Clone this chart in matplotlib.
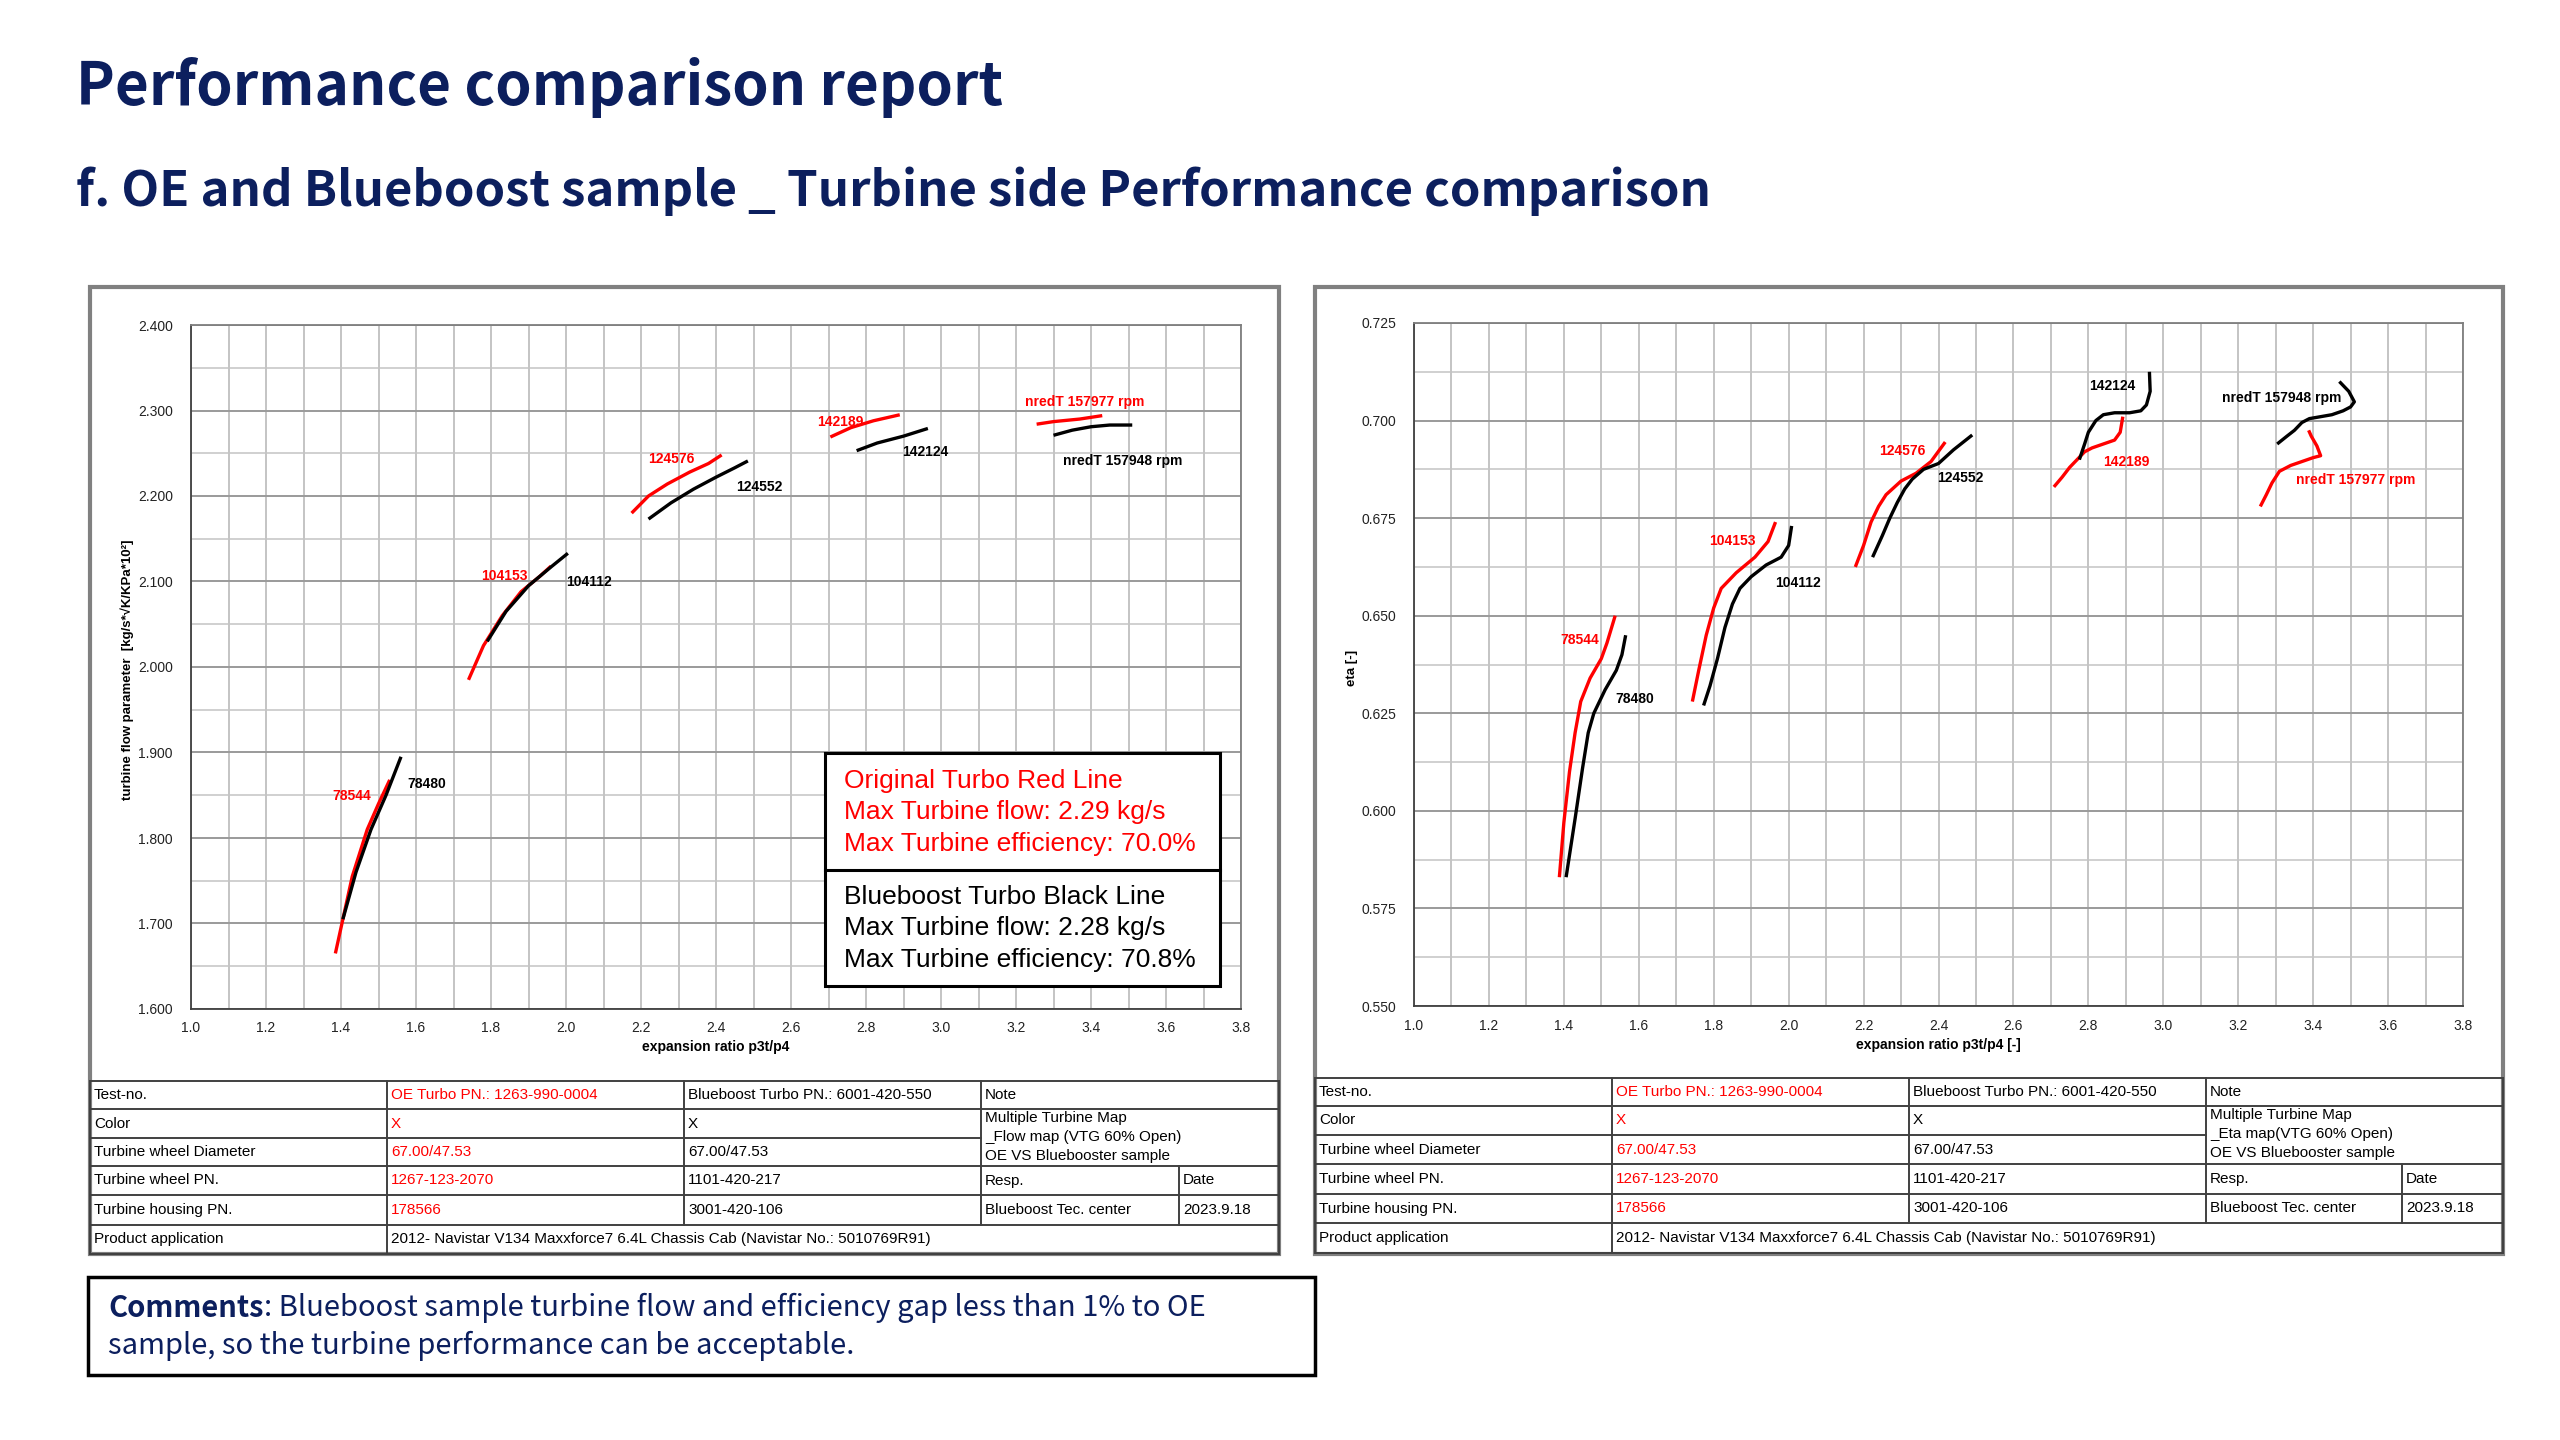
import matplotlib
matplotlib.use("Agg")
import matplotlib.pyplot as plt
import matplotlib.transforms as mtransforms
from matplotlib.patches import Rectangle
from matplotlib.lines import Line2D
from matplotlib.ticker import MultipleLocator, FormatStrFormatter


# ============================================================
# DATA
# ============================================================

oe_speeds = ["78544", "104153", "124576", "142189", "nredT 157977 rpm"]
bb_speeds = ["78480", "104112", "124552", "142124", "nredT 157948 rpm"]

# flow map: turbine flow parameter vs expansion ratio
flow_oe_x = [
    [1.385, 1.43, 1.47, 1.50, 1.53],
    [1.74, 1.78, 1.83, 1.88, 1.93, 1.96],
    [2.175, 2.22, 2.27, 2.33, 2.38, 2.415],
    [2.705, 2.76, 2.82, 2.89],
    [3.255, 3.30, 3.37, 3.43],
]
flow_oe_y = [
    [1.665, 1.755, 1.810, 1.840, 1.868],
    [1.985, 2.025, 2.060, 2.088, 2.106, 2.118],
    [2.180, 2.200, 2.214, 2.228, 2.238, 2.248],
    [2.269, 2.280, 2.288, 2.295],
    [2.284, 2.287, 2.290, 2.294],
]
flow_bb_x = [
    [1.405, 1.44, 1.48, 1.52, 1.56],
    [1.79, 1.84, 1.90, 1.96, 2.005],
    [2.22, 2.28, 2.34, 2.40, 2.45, 2.485],
    [2.775, 2.83, 2.90, 2.965],
    [3.30, 3.35, 3.40, 3.45, 3.51],
]
flow_bb_y = [
    [1.705, 1.760, 1.810, 1.850, 1.895],
    [2.030, 2.065, 2.095, 2.117, 2.133],
    [2.173, 2.192, 2.208, 2.222, 2.233, 2.241],
    [2.253, 2.262, 2.270, 2.279],
    [2.271, 2.277, 2.281, 2.283, 2.283],
]
flow_oe_label_x = [1.429, 1.837, 2.280, 2.731, 3.384]
flow_oe_label_y = [1.849, 2.107, 2.243, 2.286, 2.310]
flow_bb_label_x = [1.629, 2.061, 2.516, 2.957, 3.484]
flow_bb_label_y = [1.863, 2.099, 2.210, 2.251, 2.241]

# eta map: efficiency vs expansion ratio
eta_oe_x = [
    [1.388, 1.40, 1.415, 1.43, 1.445, 1.47, 1.50, 1.515, 1.537],
    [1.743, 1.76, 1.78, 1.80, 1.82, 1.86, 1.91, 1.945, 1.965],
    [2.178, 2.20, 2.22, 2.24, 2.26, 2.30, 2.34, 2.38, 2.418],
    [2.708, 2.73, 2.75, 2.77, 2.79, 2.81, 2.84, 2.87, 2.885, 2.892],
    [3.259, 3.275, 3.29, 3.31, 3.34, 3.37, 3.40, 3.42, 3.41, 3.395, 3.388],
]
eta_oe_y = [
    [0.583, 0.597, 0.610, 0.620, 0.628, 0.634, 0.639, 0.643, 0.650],
    [0.628, 0.636, 0.645, 0.652, 0.657, 0.661, 0.665, 0.669, 0.674],
    [0.6625, 0.668, 0.674, 0.678, 0.681, 0.6845, 0.6865, 0.6895, 0.6945],
    [0.683, 0.6855, 0.688, 0.690, 0.692, 0.693, 0.694, 0.695, 0.697, 0.701],
    [0.678, 0.681, 0.684, 0.687, 0.6885, 0.6895, 0.6905, 0.691, 0.6935, 0.696, 0.6975],
]
eta_bb_x = [
    [1.406, 1.43, 1.45, 1.465, 1.48, 1.51, 1.54, 1.555, 1.565],
    [1.773, 1.79, 1.81, 1.83, 1.85, 1.87, 1.90, 1.94, 1.98, 2.00, 2.008],
    [2.224, 2.25, 2.27, 2.29, 2.31, 2.33, 2.36, 2.40, 2.44, 2.49],
    [2.776, 2.79, 2.80, 2.82, 2.84, 2.87, 2.91, 2.94, 2.955, 2.965, 2.963],
    [3.304, 3.33, 3.35, 3.37, 3.39, 3.42, 3.45, 3.48, 3.50, 3.51, 3.495, 3.47],
]
eta_bb_y = [
    [0.583, 0.598, 0.611, 0.620, 0.625, 0.631, 0.636, 0.640, 0.645],
    [0.627, 0.632, 0.639, 0.647, 0.653, 0.657, 0.660, 0.663, 0.665, 0.668, 0.673],
    [0.665, 0.6705, 0.675, 0.679, 0.6825, 0.685, 0.6875, 0.689, 0.6925, 0.6963],
    [0.690, 0.694, 0.697, 0.700, 0.7015, 0.702, 0.702, 0.7025, 0.704, 0.7075, 0.7125],
    [0.694, 0.696, 0.6975, 0.6995, 0.7005, 0.701, 0.7015, 0.7025, 0.7035, 0.7048, 0.7075, 0.710],
]
eta_oe_label_x = [1.443, 1.851, 2.304, 2.902, 3.514]
eta_oe_label_y = [0.6439, 0.6692, 0.6923, 0.6895, 0.6848]
eta_bb_label_x = [1.590, 2.024, 2.459, 2.865, 3.316]
eta_bb_label_y = [0.6287, 0.6584, 0.6852, 0.7089, 0.7057]

legend_oe = ["Original Turbo Red Line", "Max Turbine flow: 2.29 kg/s",
             "Max Turbine efficiency: 70.0%"]
legend_bb = ["Blueboost Turbo Black Line", "Max Turbine flow: 2.28 kg/s",
             "Max Turbine efficiency: 70.8%"]

# info table below each map
row_names = ["Test-no.", "Color", "Turbine wheel Diameter", "Turbine wheel PN.",
             "Turbine housing PN.", "Product application"]
oe_column = ["OE Turbo PN.: 1263-990-0004", "X", "67.00/47.53", "1267-123-2070", "178566"]
bb_column = ["Blueboost Turbo PN.: 6001-420-550", "X", "67.00/47.53", "1101-420-217",
             "3001-420-106"]
note_flow = ["Multiple Turbine Map", "_Flow map (VTG 60% Open)", "OE VS Bluebooster sample"]
note_eta = ["Multiple Turbine Map", "_Eta map(VTG 60% Open)", "OE VS Bluebooster sample"]
resp_text = ["Resp.", "Date", "Blueboost Tec. center", "2023.9.18"]
product_text = "2012- Navistar V134 Maxxforce7 6.4L Chassis Cab (Navistar No.: 5010769R91)"

title_text = "Performance comparison report"
subtitle_text = "f. OE and Blueboost sample _ Turbine side Performance comparison"
comment_bold = "Comments"
comment_lines = [": Blueboost sample turbine flow and efficiency gap less than 1% to OE",
                 "sample, so the turbine performance can be acceptable."]


# ============================================================
# STYLE
# ============================================================

W, H = 2560, 1440
NAVY = "#0C1F5E"
RED = "#FF0000"
NARROW = ["Liberation Sans Narrow", "Liberation Sans", "DejaVu Sans"]
HEAD = ["Noto Sans CJK SC", "DejaVu Sans"]

plt.rcParams["font.family"] = NARROW

fig = plt.figure(figsize=(W / 100, H / 100), dpi=100)
fig.patch.set_facecolor("white")

# pixel coordinates, origin at top-left
px = mtransforms.Affine2D().scale(1 / W, -1 / H).translate(0, 1) + fig.transFigure


def px_rect(x0, y0, x1, y1):
    return [x0 / W, 1 - y1 / H, (x1 - x0) / W, (y1 - y0) / H]


def hline(x0, x1, y, color="#404040", lw=1.4):
    fig.add_artist(Line2D([x0, x1], [y, y], color=color, lw=lw, transform=px))


def vline(x, y0, y1, color="#404040", lw=1.4):
    fig.add_artist(Line2D([x, x], [y0, y1], color=color, lw=lw, transform=px))


def put(x, y, s, **kw):
    kw.setdefault("fontsize", 11)
    kw.setdefault("va", "center")
    kw.setdefault("ha", "left")
    return fig.text(x, y, s, transform=px, **kw)


def make_map(rect, ylim, ymajor, yminor, yfmt):
    ax = fig.add_axes(px_rect(*rect))
    ax.set_xlim(1.0, 3.8)
    ax.set_ylim(*ylim)
    ax.xaxis.set_major_locator(MultipleLocator(0.2))
    ax.xaxis.set_minor_locator(MultipleLocator(0.1))
    ax.yaxis.set_major_locator(MultipleLocator(ymajor))
    ax.yaxis.set_minor_locator(MultipleLocator(yminor))
    ax.xaxis.set_major_formatter(FormatStrFormatter("%.1f"))
    ax.yaxis.set_major_formatter(FormatStrFormatter(yfmt))
    ax.grid(axis="x", which="both", color="#B4B4B4", lw=1.1)
    ax.grid(axis="y", which="major", color="#9A9A9A", lw=1.4)
    ax.grid(axis="y", which="minor", color="#C4C4C4", lw=1.1)
    ax.set_axisbelow(True)
    ax.tick_params(which="both", length=0, labelsize=10, colors="#222222")
    ax.tick_params(axis="y", pad=13)
    ax.tick_params(axis="x", pad=9)
    for side, sp in ax.spines.items():
        sp.set_color("#7F7F7F" if side in ("top", "right") else "#404040")
        sp.set_linewidth(1.3)
    return ax


def draw_curves(ax, xs, ys, color):
    for x, y in zip(xs, ys):
        ax.plot(x, y, color=color, lw=2.4, solid_capstyle="butt")


def draw_labels(ax, xs, ys, names, color):
    for x, y, s in zip(xs, ys, names):
        ax.text(x, y, s, color=color, fontsize=10, fontweight="bold",
                ha="center", va="center")


def draw_table(cols, rows, note_lines):
    c0, c1, c2, c3, c4, c5 = cols
    r0, r1, r2, r3, r4, r5, r6 = rows
    for r in (r0, r1, r3, r4, r5, r6):
        hline(c0, c5, r)
    hline(c0, c3, r2)
    vline(c0, r0, r6)
    vline(c1, r0, r6)
    vline(c2, r0, r5)
    vline(c3, r0, r5)
    vline(c4, r3, r5)
    vline(c5, r0, r6)
    mids = [(rows[i] + rows[i + 1]) / 2 for i in range(6)]
    for m, s in zip(mids, row_names):
        put(c0 + 4, m, s)
    for m, s in zip(mids, oe_column):
        put(c1 + 4, m, s, color=RED)
    for m, s in zip(mids, bb_column):
        put(c2 + 4, m, s)
    put(c3 + 4, mids[0], "Note")
    step = (r3 - r1) / 3
    for i, s in enumerate(note_lines):
        put(c3 + 4, r1 + step * (i + 0.45), s)
    put(c3 + 4, mids[3], resp_text[0])
    put(c4 + 4, mids[3], resp_text[1])
    put(c3 + 4, mids[4], resp_text[2])
    put(c4 + 4, mids[4], resp_text[3])
    put(c1 + 4, mids[5], product_text)


# ============================================================
# HEADINGS
# ============================================================

put(76, 87, title_text, fontsize=42, color=NAVY, family=HEAD, fontweight="bold")
put(76, 191, subtitle_text, fontsize=35.3, color=NAVY, family=HEAD, fontweight="bold")

# ============================================================
# LEFT: FLOW MAP
# ============================================================

ax_flow = make_map((191, 325, 1241, 1009), (1.6, 2.4), 0.1, 0.05, "%.3f")
draw_curves(ax_flow, flow_oe_x, flow_oe_y, RED)
draw_curves(ax_flow, flow_bb_x, flow_bb_y, "black")
draw_labels(ax_flow, flow_oe_label_x, flow_oe_label_y, oe_speeds, RED)
draw_labels(ax_flow, flow_bb_label_x, flow_bb_label_y, bb_speeds, "black")
put(127, 670, "turbine flow parameter  [kg/s*\u221aK/KPa*10\u00b2]", fontsize=9.5,
    fontweight="bold", rotation=90, ha="center")
put(716, 1047, "expansion ratio p3t/p4", fontsize=10, fontweight="bold", ha="center")

# legend box
fig.add_artist(Rectangle((825, 753), 395, 233, transform=px, facecolor="white",
                         edgecolor="black", lw=2.2))
hline(825, 1220, 870, color="black", lw=2.2)
for i, s in enumerate(legend_oe):
    put(844, 781 + 31.5 * i, s, fontsize=19, color=RED)
for i, s in enumerate(legend_bb):
    put(844, 897 + 31.5 * i, s, fontsize=19, color="black")

fig.add_artist(Rectangle((90, 287), 1189, 967, transform=px, facecolor="none",
                         edgecolor="#808080", lw=3))
draw_table((90, 387, 684, 981, 1179, 1279),
           (1081, 1109, 1138, 1166, 1195, 1225, 1254), note_flow)

# ============================================================
# RIGHT: ETA MAP
# ============================================================

ax_eta = make_map((1414, 323, 2463, 1006), (0.55, 0.725), 0.025, 0.0125, "%.3f")
draw_curves(ax_eta, eta_oe_x, eta_oe_y, RED)
draw_curves(ax_eta, eta_bb_x, eta_bb_y, "black")
draw_labels(ax_eta, eta_oe_label_x, eta_oe_label_y, oe_speeds, RED)
draw_labels(ax_eta, eta_bb_label_x, eta_bb_label_y, bb_speeds, "black")
put(1352, 668, "eta [-]", fontsize=9.5, fontweight="bold", rotation=90, ha="center")
put(1938, 1045, "expansion ratio p3t/p4 [-]", fontsize=10, fontweight="bold", ha="center")

fig.add_artist(Rectangle((1315, 287), 1188, 967, transform=px, facecolor="none",
                         edgecolor="#808080", lw=3))
draw_table((1315, 1612, 1909, 2206, 2402, 2503),
           (1078, 1106, 1135, 1164, 1194, 1223, 1253), note_eta)

# ============================================================
# COMMENT BOX
# ============================================================

fig.add_artist(Rectangle((88, 1277), 1227, 98, transform=px, facecolor="white",
                         edgecolor="black", lw=2.5))
t_bold = put(108, 1308, comment_bold, fontsize=21, color=NAVY, family=HEAD,
             fontweight="bold")
fig.canvas.draw()
bb = t_bold.get_window_extent()
put(bb.x1, 1308, comment_lines[0], fontsize=21, color=NAVY, family=HEAD,
    fontweight="light")
put(108, 1346, comment_lines[1], fontsize=21, color=NAVY, family=HEAD,
    fontweight="light")

fig.savefig("out.png", dpi=100, facecolor="white")
